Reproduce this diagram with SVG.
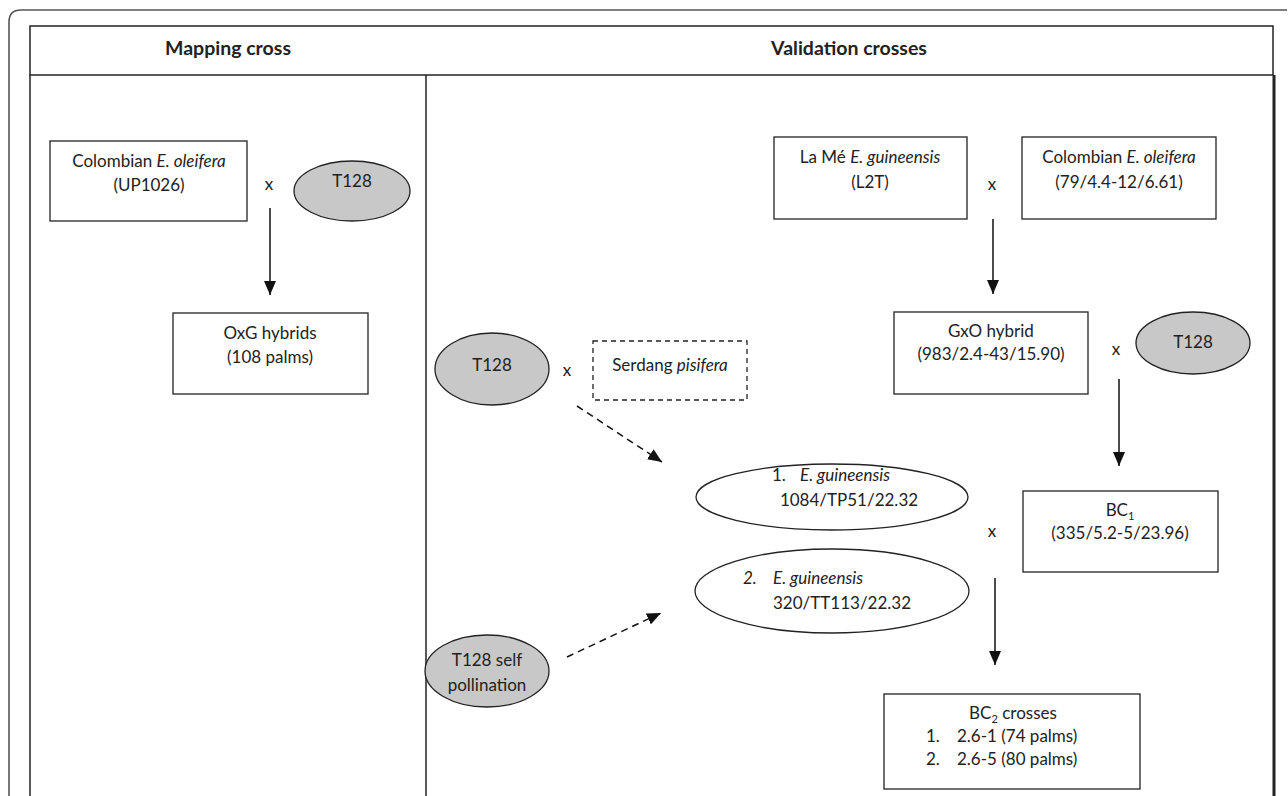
<svg xmlns="http://www.w3.org/2000/svg" width="1288" height="796" viewBox="0 0 1288 796">
<style>
text{font-family:Lato,"Open Sans","Liberation Sans",sans-serif;font-size:17px;fill:#222}
.h{font-weight:bold;font-size:19.5px}
.m{text-anchor:middle}
.i{font-style:italic}
.box{fill:#fff;stroke:#222;stroke-width:1.3}
.dbox{fill:#fff;stroke:#222;stroke-width:1.3;stroke-dasharray:5 4}
.ov{fill:#fff;stroke:#222;stroke-width:1.3}
.gov{fill:#c8c8c8;stroke:#222;stroke-width:1.3}
.ln{fill:none;stroke:#222;stroke-width:1.5}
.ar{fill:none;stroke:#111;stroke-width:1.5;marker-end:url(#ah)}
.da{fill:none;stroke:#111;stroke-width:1.5;stroke-dasharray:7 5;marker-end:url(#ah)}
</style>
<defs>
<marker id="ah" markerUnits="userSpaceOnUse" markerWidth="14" markerHeight="12" refX="14" refY="6" orient="auto">
<path d="M0,0 L14,6 L0,12 z" fill="#111"/>
</marker>
</defs>
<rect width="1288" height="796" fill="#fff"/>
<g id="frame">
<path d="M9,800 L9,22 Q9,10 21,10 L1287,10" fill="none" stroke="#555" stroke-width="1.6"/>
<rect x="30" y="26" width="1243" height="49" fill="none" stroke="#222" stroke-width="1.5"/>
<line class="ln" x1="30" y1="75" x2="30" y2="800"/>
<line class="ln" x1="426" y1="75" x2="426" y2="800"/>
<line x1="1274" y1="75" x2="1274" y2="800" stroke="#222" stroke-width="3"/>
<text class="h m" x="228" y="55">Mapping cross</text>
<text class="h m" x="849" y="55">Validation crosses</text>
</g>
<g id="connectors">
<line class="ar" x1="270" y1="208" x2="270" y2="295"/>
<line class="ar" x1="993" y1="219" x2="993" y2="294"/>
<line class="ar" x1="1119" y1="379" x2="1119" y2="466"/>
<line class="ar" x1="995" y1="578" x2="995" y2="665"/>
<line class="da" x1="577" y1="406" x2="662" y2="462"/>
<line class="da" x1="567" y1="657" x2="661" y2="613"/>
</g>
<g id="n-col-oleifera">
<rect class="box" x="50" y="141" width="197" height="80"/>
<text class="m" x="149" y="167">Colombian <tspan class="i">E. oleifera</tspan></text>
<text class="m" x="149" y="191">(UP1026)</text>
</g>
<g id="x1"><text class="m" x="269" y="190">x</text></g>
<g id="n-t128-a">
<ellipse class="gov" cx="352" cy="191" rx="58" ry="30"/>
<text class="m" x="352" y="187">T128</text>
</g>
<g id="n-oxg">
<rect class="box" x="173" y="313" width="195" height="81"/>
<text class="m" x="270" y="339">OxG hybrids</text>
<text class="m" x="270" y="363">(108 palms)</text>
</g>
<g id="n-t128-b">
<ellipse class="gov" cx="492" cy="369" rx="57" ry="36"/>
<text class="m" x="492" y="371">T128</text>
</g>
<g id="x2"><text class="m" x="567" y="376">x</text></g>
<g id="n-serdang">
<rect class="dbox" x="593" y="341" width="154" height="59"/>
<text class="m" x="670" y="371">Serdang <tspan class="i">pisifera</tspan></text>
</g>
<g id="n-lame">
<rect class="box" x="774" y="137" width="193" height="82"/>
<text class="m" x="870" y="163">La Mé <tspan class="i">E. guineensis</tspan></text>
<text class="m" x="870" y="188">(L2T)</text>
</g>
<g id="x3"><text class="m" x="992" y="190">x</text></g>
<g id="n-col-79">
<rect class="box" x="1022" y="137" width="194" height="82"/>
<text class="m" x="1119" y="163">Colombian <tspan class="i">E. oleifera</tspan></text>
<text class="m" x="1119" y="188">(79/4.4-12/6.61)</text>
</g>
<g id="n-gxo">
<rect class="box" x="894" y="312" width="194" height="82"/>
<text class="m" x="991" y="337">GxO hybrid</text>
<text class="m" x="991" y="360">(983/2.4-43/15.90)</text>
</g>
<g id="x4"><text class="m" x="1116" y="355">x</text></g>
<g id="n-t128-c">
<ellipse class="gov" cx="1193" cy="343" rx="57" ry="31"/>
<text class="m" x="1193" y="348">T128</text>
</g>
<g id="n-g1084">
<ellipse class="ov" cx="832" cy="497" rx="136" ry="33"/>
<text x="772" y="481">1.<tspan class="i" x="800">E. guineensis</tspan></text>
<text class="m" x="849" y="506">1084/TP51/22.32</text>
</g>
<g id="n-g320">
<ellipse class="ov" cx="832" cy="591" rx="137" ry="42"/>
<text x="743" y="584"><tspan class="i">2.</tspan><tspan class="i" x="773">E. guineensis</tspan></text>
<text x="773" y="609">320/TT113/22.32</text>
</g>
<g id="n-t128-self">
<ellipse class="gov" cx="487" cy="671" rx="62" ry="36"/>
<text class="m" x="487" y="666">T128 self</text>
<text class="m" x="487" y="691">pollination</text>
</g>
<g id="x5"><text class="m" x="992" y="537">x</text></g>
<g id="n-bc1">
<rect class="box" x="1023" y="491" width="195" height="81"/>
<text class="m" x="1120" y="516">BC<tspan font-size="11" dy="4">1</tspan></text>
<text class="m" x="1120" y="539">(335/5.2-5/23.96)</text>
</g>
<g id="n-bc2">
<rect class="box" x="884" y="694" width="256" height="95"/>
<text class="m" x="1013" y="719">BC<tspan font-size="11" dy="4">2</tspan><tspan dy="-4"> crosses</tspan></text>
<text x="926" y="742">1.<tspan x="957">2.6-1 (74 palms)</tspan></text>
<text x="926" y="765">2.<tspan x="957">2.6-5 (80 palms)</tspan></text>
</g>
</svg>
